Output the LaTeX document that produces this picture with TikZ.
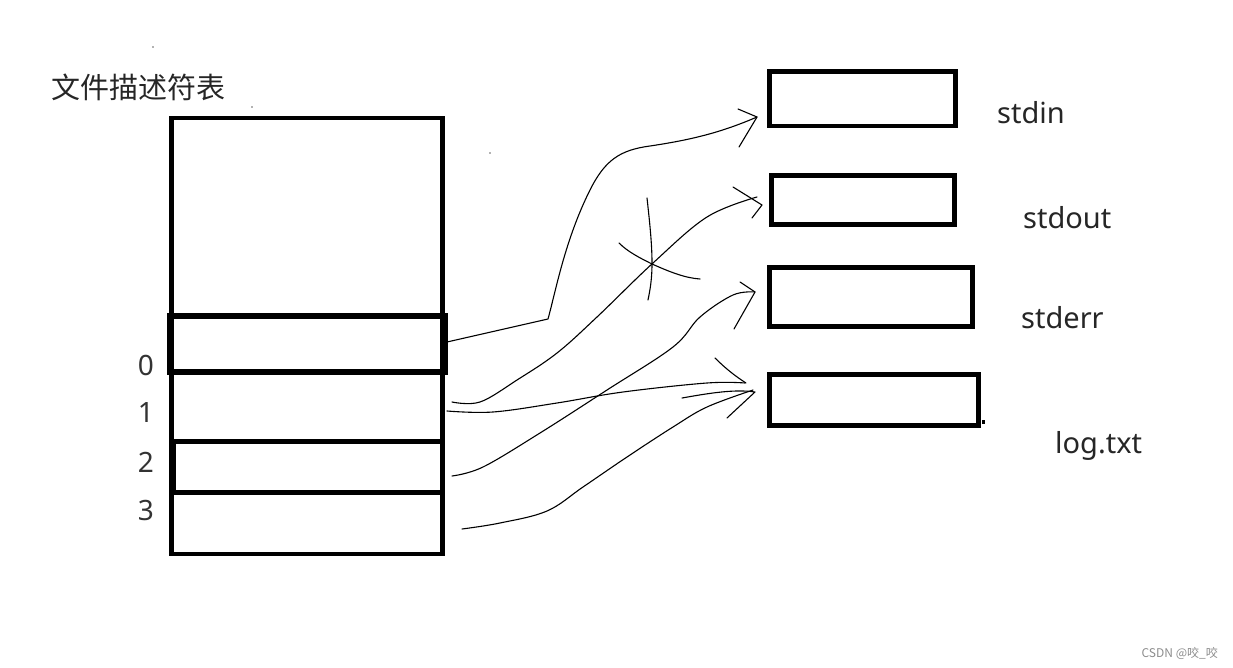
\documentclass[tikz,border=0pt]{standalone}
\usepackage{fontspec}
\setmainfont{Noto Sans}
\newfontfamily\cjk{Noto Sans CJK SC}
\begin{document}
\begin{tikzpicture}[x=1pt,y=-1pt,
  rect/.style={draw=black,line width=4.5pt,inner sep=0pt,minimum width=#1},
  lbl/.style={font=\fontsize{29}{34}\selectfont,anchor=base west,inner sep=0pt,text=black!85},
  num/.style={font=\fontsize{28}{34}\selectfont,anchor=base,inner sep=0pt,text=black!80},
  pen/.style={line width=1.1pt,line cap=round,line join=round}]
\useasboundingbox (0,0) rectangle (1233,668);
% title
\node[font=\cjk\fontsize{29}{34}\selectfont,anchor=base west,inner sep=0pt,text=black!85] (title) at (51,99) {文件描述符表};
% table
\node[rect=271pt,minimum height=436pt] (tab) at (307,336) {};
\node[rect=275pt,minimum height=56.5pt,line width=6pt] (r0) at (307,343.75) {};
\node[rect=268pt,minimum height=51pt] (r2) at (308,467) {};
\draw[line width=4.5pt] (tab.west |- 0,492.5) coordinate (r3w) -- (tab.east |- 0,492.5) coordinate (r3e);
\coordinate (r1) at (442,395);
% numbers
\node[num] (n0) at (146,375) {0};
\node[num] (n1) at (146,422) {1};
\node[num] (n2) at (146,472) {2};
\node[num] (n3) at (146,520) {3};
% right boxes
\node[rect=186pt,minimum height=54.5pt] (sin) at (862.5,98.75) {};
\node[rect=183pt,minimum height=49pt] (sout) at (863,200) {};
\node[rect=203pt,minimum height=59pt] (serr) at (871,297) {};
\node[rect=209pt,minimum height=51pt] (log) at (874,400) {};
\fill (981.5,419.5) rectangle (985,424);
% labels
\node[lbl] (lin) at (997,124) {stdin};
\node[lbl] (lout) at (1023,229) {stdout};
\node[lbl] (lerr) at (1021,328) {stderr};
\node[lbl] (llog) at (1055,453) {log.txt};
% curves
\draw[pen] (447,342) -- (548,319) .. controls (556,290) and (565,240) .. (590,190)
  .. controls (605,160) and (620,150) .. (650,146) .. controls (690,140) and (720,133) .. (757,117);
\draw[pen] (738,109) -- (757,117) -- (739,147);
\draw[pen] plot[smooth,tension=0.6] coordinates {(452,402) (480,402) (517,380) (557,353) (597,317) (653,263) (707,217) (757,197)};
\draw[pen] (733,187) -- (762,205) -- (752,218);
\draw[pen] plot[smooth,tension=0.6] coordinates {(452,476) (483,467) (540,433) (607,390) (673,347) (700,317) (733,295) (755,292)};
\draw[pen] (740,282) -- (755,292) -- (734,329);
\draw[pen] plot[smooth,tension=0.6] coordinates {(447,411) (493,412) (557,403) (623,392) (707,383) (745,383)};
\draw[pen] (715,358) .. controls (725,368) and (735,376) .. (746,383);
\draw[pen] (682,398) .. controls (710,393) and (735,389) .. (755,392) -- (727,418);
\draw[pen] plot[smooth,tension=0.6] coordinates {(462,529) (500,523) (547,511) (583,487) (627,457) (673,427) (707,407) (753,390)};
% cross
\draw[pen] (647,198) .. controls (650,225) and (652,245) .. (652,263) .. controls (652,280) and (650,290) .. (648,300);
\draw[pen] (619,243) .. controls (628,252) and (640,258) .. (652,264) .. controls (670,272) and (685,278) .. (700,279);
% stray dots
\fill[black!60] (153,47) circle (0.8);
\fill[black!60] (252,107) circle (0.8);
\fill[black!60] (490,153) circle (0.8);
% watermark
\node[font=\cjk\fontsize{12}{14}\selectfont,anchor=base east,inner sep=0pt,text=black!45] (wm) at (1218,657) {CSDN @咬\_咬};
\end{tikzpicture}
\end{document}
